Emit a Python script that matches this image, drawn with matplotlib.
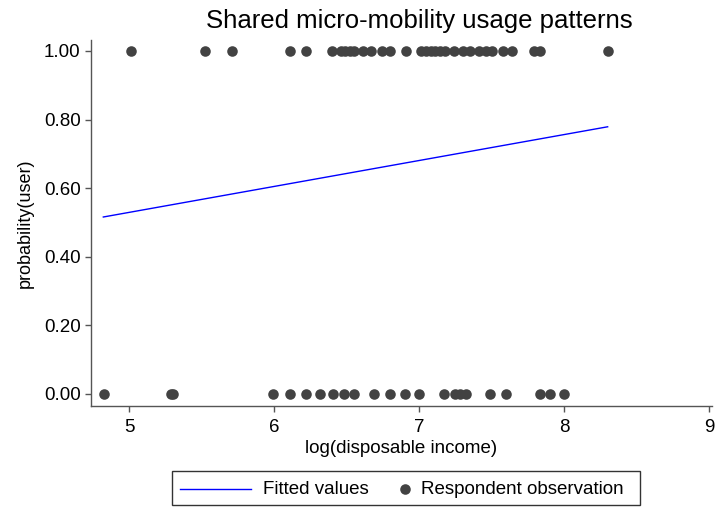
import numpy as np
import matplotlib
matplotlib.use('Agg')
import matplotlib.pyplot as plt
from matplotlib.lines import Line2D
from matplotlib.patches import Rectangle

plt.rcParams['font.family'] = ['Liberation Sans', 'DejaVu Sans']

# respondents who use shared micro-mobility (user = 1)
income_users = [5.01, 5.52, 5.71, 6.11, 6.22, 6.40, 6.46, 6.49, 6.52, 6.55, 6.61,
                6.67, 6.745, 6.80, 6.91, 7.01, 7.05, 7.08, 7.11, 7.14, 7.18, 7.24,
                7.30, 7.35, 7.41, 7.46, 7.50, 7.58, 7.64, 7.79, 7.83, 8.30]
# non users (user = 0)
income_nonusers = [4.825, 5.29, 5.30, 5.99, 6.11, 6.216, 6.313, 6.403, 6.479, 6.553,
                   6.686, 6.80, 6.90, 7.00, 7.17, 7.246, 7.28, 7.32, 7.49, 7.60,
                   7.83, 7.90, 8.00]
# fitted values (linear probability model)
fit_x = [4.82, 8.30]
fit_y = [0.516, 0.779]

xticks = [5, 6, 7, 8, 9]
yticks = [0.0, 0.2, 0.4, 0.6, 0.8, 1.0]
legend_labels = ['Fitted values', 'Respondent observation']

W, H = 715, 507
fig = plt.figure(figsize=(W / 100, H / 100), dpi=100)
ax = fig.add_axes([91 / W, 1 - 406 / H, 621 / W, 366 / H])

dotc = '#424242'
linec = '#0000ff'
ax.plot(fit_x, fit_y, color=linec, lw=1.0, zorder=3)
ax.plot(income_users, np.ones(len(income_users)), 'o', color=dotc, ms=7.6,
        mew=0, zorder=2)
ax.plot(income_nonusers, np.zeros(len(income_nonusers)), 'o', color=dotc, ms=7.6,
        mew=0, zorder=2)

ax.set_xlim(4.735, 9.02)
ax.set_ylim(-0.035, 1.032)
ax.set_xticks(xticks)
ax.set_yticks(yticks)
ax.set_yticklabels(['%.2f' % v for v in yticks])

ax.spines['right'].set_color('none')
ax.spines['top'].set_color('none')
for s in ['left', 'bottom']:
    ax.spines[s].set_color('#555555')
    ax.spines[s].set_linewidth(1.0)
ax.tick_params(direction='out', length=4.5, width=1.0, color='#555555',
               labelsize=13.5, labelcolor='black')
ax.tick_params(axis='x', pad=5)
ax.tick_params(axis='y', pad=3)

ax.set_xlabel('log(disposable income)', fontsize=13.5, labelpad=3)
ax.set_ylabel('probability(user)', fontsize=13, labelpad=7)
fig.text(419 / W, 1 - 21 / H, 'Shared micro-mobility usage patterns',
         ha='center', va='center', fontsize=18.5)

# legend box drawn below the plot
def px(x, y):
    return x / W, 1 - y / H

fig.patches.append(Rectangle(px(172, 505), 468 / W, 34 / H, transform=fig.transFigure,
                             fill=False, edgecolor='#333333', lw=1.0))
fig.lines.append(Line2D([180 / W, 251 / W], [1 - 489 / H] * 2, transform=fig.transFigure,
                        color=linec, lw=1.0))
fig.text(*px(263, 489), legend_labels[0], ha='left', va='center', fontsize=13.5)
fig.lines.append(Line2D([405 / W], [1 - 489 / H], transform=fig.transFigure,
                        marker='o', ls='none', color=dotc, ms=7.6, mew=0))
fig.text(*px(421, 489), legend_labels[1], ha='left', va='center', fontsize=13.5)

fig.savefig('out.png', dpi=100)
